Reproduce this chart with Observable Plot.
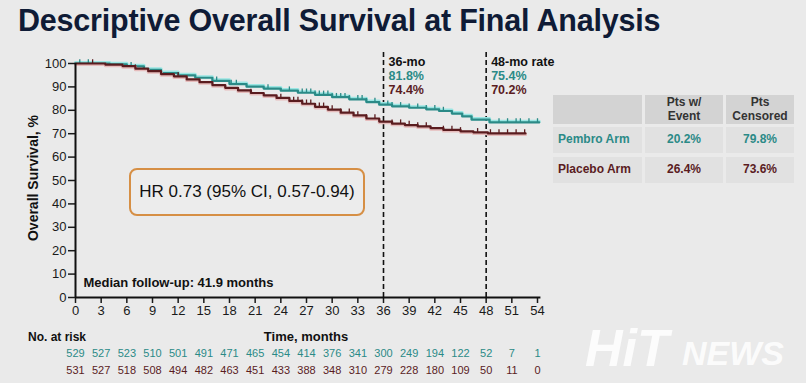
<!DOCTYPE html>
<html>
<head>
<meta charset="utf-8">
<script src="https://cdn.jsdelivr.net/npm/d3@7"></script>
<script src="https://cdn.jsdelivr.net/npm/@observablehq/plot@0.6"></script>
<style>
  html, body { margin: 0; padding: 0; background: #eaeaea; }
  #wrap { position: relative; width: 806px; height: 383px; overflow: hidden; background: #eaeaea;
          font-family: "Liberation Sans", Arial, sans-serif; }
  #wrap svg { position: absolute; left: 0; top: 0; }
  .abs { position: absolute; white-space: nowrap; }
  .narrow { font-family: "Liberation Sans Narrow", "Arial Narrow", "Liberation Sans", sans-serif; }
</style>
</head>
<body>
<div id="wrap"></div>
<script>
// ---------- data ----------
const title = "Descriptive Overall Survival at Final Analysis";
const xTicks = [0, 3, 6, 9, 12, 15, 18, 21, 24, 27, 30, 33, 36, 39, 42, 45, 48, 51, 54];
const yTicks = [0, 10, 20, 30, 40, 50, 60, 70, 80, 90, 100];

const pembroTime = [0, 4, 6, 8, 10, 12, 14, 16, 18, 20, 22, 24, 26, 28, 30, 32, 34, 35.5, 37, 39, 41, 42.5, 44, 45.2, 46.3, 48.4, 54.2];
const pembroSurv = [100, 99.6, 98.8, 97.3, 95.9, 94.9, 93.9, 92.6, 91.2, 90.1, 89.3, 88.4, 87.5, 86.6, 85.6, 84.7, 83.5, 82.4, 81.7, 81.1, 80.4, 79.7, 78.6, 77.4, 76.0, 74.8, 74.8];
const placeboTime = [0, 3.5, 5.5, 7, 8.5, 10, 11.5, 13, 14.5, 16, 17.5, 19, 20.5, 22, 23.5, 25, 26.5, 28, 29.5, 31, 32.5, 34, 35.5, 37, 38.5, 40, 41.5, 43, 45, 46.5, 48.2, 52.6];
const placeboSurv = [100, 99.5, 98.9, 97.8, 96.7, 95.5, 94.5, 93.2, 92.0, 90.8, 89.6, 88.5, 87.4, 86.4, 85.3, 84.0, 82.8, 81.5, 80.3, 79.0, 77.8, 76.5, 75.2, 74.3, 73.7, 73.1, 72.4, 71.6, 71.0, 70.6, 70.1, 70.1];

const pembroCensor = [0.5, 1.5, 6.5, 16.5, 18.2, 18.8, 22.5, 25, 26.5, 27, 27.5, 28, 28.5, 29, 29.5, 30, 30.5, 31, 31.5, 32, 33, 33.5, 34, 35, 36.5, 37, 38, 39, 40, 41, 42, 43, 49.5, 50.5, 51.5, 52, 53, 54];
const placeboCensor = [2, 7, 12, 20.5, 24, 25.5, 26, 26.5, 27, 27.5, 28.5, 29, 30, 31, 32, 33, 34, 35, 37, 38, 39, 40, 41, 43, 44, 45, 47, 48.5, 49.5, 50.5, 51.5, 52.5];

const landmarks = [36, 48];
const landmarkLabels = ["36-mo", "48-mo rate"];
const pembroLandmark = ["81.8%", "75.4%"];
const placeboLandmark = ["74.4%", "70.2%"];

const riskTimes = xTicks;
const pembroRisk = [529, 527, 523, 510, 501, 491, 471, 465, 454, 414, 376, 341, 300, 249, 194, 122, 52, 7, 1];
const placeboRisk = [531, 527, 518, 508, 494, 482, 463, 451, 433, 388, 348, 310, 279, 228, 180, 109, 50, 11, 0];

const hrText = "HR 0.73 (95% CI, 0.57-0.94)";
const followUp = "Median follow-up: 41.9 months";
const yLabel = "Overall Survival, %";
const xLabel = "Time, months";
const riskLabel = "No. at risk";

const tableHeader = [["Pts w/", "Event"], ["Pts", "Censored"]];
const armNames = ["Pembro Arm", "Placebo Arm"];
const eventPct = ["20.2%", "26.4%"];
const censoredPct = ["79.8%", "73.6%"];

const TEAL = "#2b8a87";
const MAROON = "#5a1c1f";

// ---------- build ----------
const pembro = pembroTime.map((t, i) => ({t, s: pembroSurv[i]}));
const placebo = placeboTime.map((t, i) => ({t, s: placeboSurv[i]}));
const sAt = (T, S, t) => { let v = S[0]; for (let i = 0; i < T.length; i++) if (T[i] <= t) v = S[i]; return v; };
const pembroC = pembroCensor.map(t => ({t, s: sAt(pembroTime, pembroSurv, t)}));
const placeboC = placeboCensor.map(t => ({t, s: sAt(placeboTime, placeboSurv, t)}));
const risk = riskTimes.map((t, i) => ({t, p: pembroRisk[i], q: placeboRisk[i]}));

const chart = Plot.plot({
  width: 806, height: 383,
  marginLeft: 75, marginRight: 269, marginTop: 63, marginBottom: 86,
  style: {background: "transparent", fontFamily: "Liberation Sans, Arial, sans-serif", color: "#1a1a1a"},
  x: {domain: [0, 54]},
  y: {domain: [0, 100]},
  marks: [
    Plot.ruleX(landmarks, {y1: 0, y2: 106, stroke: "#111", strokeWidth: 1.6, strokeDasharray: "5,3"}),
    Plot.line(pembro, {x: "t", y: "s", curve: "step-after", stroke: "#9be6e3", strokeWidth: 3.2, dy: -1}),
    Plot.line(pembro, {x: "t", y: "s", curve: "step-after", stroke: TEAL, strokeWidth: 2.2}),
    Plot.ruleX(pembroC, {x: "t", y1: "s", y2: d => d.s + 1.6, stroke: TEAL, strokeWidth: 1.3}),
    Plot.line(placebo, {x: "t", y: "s", curve: "step-after", stroke: "#e6bcbc", strokeWidth: 3.2, dy: 1}),
    Plot.line(placebo, {x: "t", y: "s", curve: "step-after", stroke: MAROON, strokeWidth: 2.2}),
    Plot.ruleX(placeboC, {x: "t", y1: "s", y2: d => d.s + 1.6, stroke: MAROON, strokeWidth: 1.3}),
    Plot.axisX(xTicks, {tickSize: 6, tickPadding: 2, fontSize: 13, strokeWidth: 1.5, label: null, fill: "#1a1a1a"}),
    Plot.axisY(yTicks, {tickSize: 7, tickPadding: 2, fontSize: 13, strokeWidth: 1.5, label: null, fill: "#1a1a1a"}),
    Plot.ruleX([0], {stroke: "#111", strokeWidth: 2}),
    Plot.ruleY([0], {x1: 0, x2: 54.4, stroke: "#111", strokeWidth: 2}),
    Plot.text(risk, {x: "t", frameAnchor: "bottom", dy: 59, text: "p", fill: TEAL, fontSize: 11}),
    Plot.text(risk, {x: "t", frameAnchor: "bottom", dy: 76, text: "q", fill: MAROON, fontSize: 11}),
    Plot.text(landmarks, {x: d => d, frameAnchor: "top", dy: -6, dx: 5, text: (d, i) => landmarkLabels[i], textAnchor: "start", fontWeight: "bold", fontSize: 12.5, fill: "#111"}),
    Plot.text(landmarks, {x: d => d, frameAnchor: "top", dy: 8, dx: 5, text: (d, i) => pembroLandmark[i], textAnchor: "start", fontWeight: "bold", fontSize: 12.5, fill: TEAL}),
    Plot.text(landmarks, {x: d => d, frameAnchor: "top", dy: 22, dx: 5, text: (d, i) => placeboLandmark[i], textAnchor: "start", fontWeight: "bold", fontSize: 12.5, fill: MAROON}),
    Plot.text([followUp], {frameAnchor: "bottom-left", dx: 8, dy: -11, text: d => d, textAnchor: "start", fontWeight: "bold", fontSize: 13, fill: "#111"})
  ]
});

const wrap = document.getElementById("wrap");
wrap.appendChild(chart);

function add(html, css, cls) {
  const d = document.createElement("div");
  d.className = "abs " + (cls || "");
  d.innerHTML = html;
  Object.assign(d.style, css);
  wrap.appendChild(d);
  return d;
}

// title
add(title, {left: "18px", top: "3px", fontSize: "30.5px", fontWeight: "bold", color: "#0f1b36", letterSpacing: "-0.2px"});
// y label
add(yLabel, {left: "33px", top: "178px", fontSize: "14px", fontWeight: "bold", color: "#111",
  transform: "translate(-50%, -50%) rotate(-90deg)"});
// x label and risk label
add(xLabel, {left: "306px", top: "336px", fontSize: "13px", fontWeight: "bold", color: "#111", transform: "translate(-50%, -50%)"}, "narrow");
add(riskLabel, {left: "28px", top: "337px", fontSize: "12px", fontWeight: "bold", color: "#111", transform: "translate(0, -50%)"}, "narrow");
// HR box
add(hrText, {left: "129px", top: "168px", width: "232px", height: "44px", border: "2px solid #d68f45", borderRadius: "8px",
  display: "flex", alignItems: "center", justifyContent: "center", fontSize: "17px", color: "#111", background: "#ececec"});

// table on the right
const cols = [{x: 553, w: 89}, {x: 645, w: 78}, {x: 726, w: 68}];
const rows = [{y: 95, h: 29}, {y: 127, h: 26}, {y: 157, h: 26}];
rows.forEach((r, ri) => cols.forEach((c, ci) => {
  let html = "", color = "#333", align = "center", pad = "0";
  if (ri === 0) { html = ci === 0 ? "" : tableHeader[ci - 1].join("<br>"); }
  else {
    const k = ri - 1;
    color = k === 0 ? TEAL : MAROON;
    html = ci === 0 ? armNames[k] : (ci === 1 ? eventPct[k] : censoredPct[k]);
    if (ci === 0) { align = "flex-start"; pad = "0 0 0 5px"; }
  }
  add(html, {left: c.x + "px", top: r.y + "px", width: c.w + "px", height: r.h + "px",
    background: ri === 0 ? "#d3d3d3" : "#e1e1e1", display: "flex", alignItems: "center",
    justifyContent: align === "center" ? "center" : "flex-start", padding: pad, boxSizing: "border-box",
    textAlign: "center", fontSize: "12px", lineHeight: "13.5px", fontWeight: "bold", color});
}));

// watermark
add("HiT", {left: "585px", top: "318px", fontSize: "52px", fontWeight: "bold", fontStyle: "italic", color: "rgba(255,255,255,0.85)"});
add("NEWS", {left: "682px", top: "334px", fontSize: "34px", fontWeight: "bold", fontStyle: "italic", color: "rgba(255,255,255,0.85)"});
</script>
</body>
</html>
